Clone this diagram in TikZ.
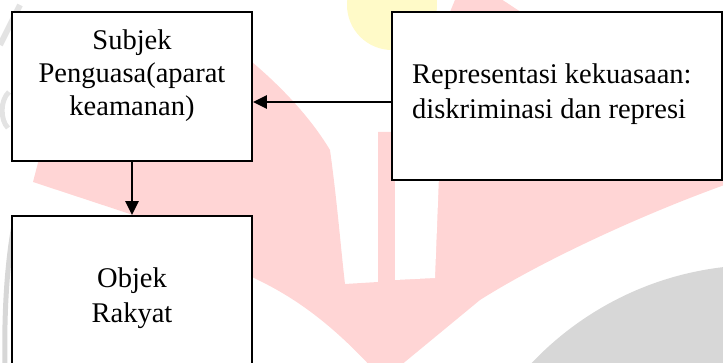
\documentclass[tikz,border=0pt]{standalone}
\usepackage{fontspec}
\setmainfont{Liberation Serif}
\usetikzlibrary{arrows.meta}
\definecolor{wmpink}{HTML}{FFD5D5}
\definecolor{wmyellow}{HTML}{FFFAC8}
\definecolor{wmgray}{HTML}{D7D7D7}
\begin{document}
\begin{tikzpicture}[x=1pt,y=-1pt,
  box/.style={draw=black, line width=1.9pt, fill=white, rectangle, inner sep=0pt},
  txt/.style={inner sep=0pt, font=\fontsize{28.5}{33}\selectfont},
  arr/.style={line width=2.6pt, -{Triangle[length=14pt,width=13pt]}}]
\useasboundingbox (0,0) rectangle (723,363);
\clip (0,0) rectangle (723,363);

% faint logo in the background
\fill[wmyellow] (392,5) circle[radius=45pt];
\fill[wmgray] (760,580) circle[radius=315pt];
\draw[wmgray, line width=5pt] (14,225) .. controls (6,270) and (4,320) .. (5,370);
\draw[wmgray!70, line width=6pt] (0,45) -- (20,5);
\draw[wmgray!70, line width=5pt] (9,92) .. controls (0,100) and (0,120) .. (8,128);
\fill[wmpink] (33,182) -- (40,155) -- (150,40)
  .. controls (200,20) and (235,45) .. (252,62)
  .. controls (285,90) and (312,120) .. (330,150)
  .. controls (337,200) and (341,250) .. (345,284)
  -- (378,282) -- (378,132) -- (395,132) -- (450,12) -- (457,-5) -- (495,-5)
  -- (730,150) -- (730,183)
  .. controls (640,215) and (540,262) .. (480,300)
  -- (383,380)
  .. controls (330,320) and (290,295) .. (252,277)
  .. controls (200,250) and (170,228) .. (127,213) -- cycle;
\fill[white] (395,150) -- (440,150) -- (435,278) -- (395,280) -- cycle;

% boxes
\node[box, minimum width=240pt, minimum height=149pt] (A) at (132,86.5) {};
\node[box, minimum width=330pt, minimum height=168pt] (R) at (557,96) {};
\node[box, minimum width=240pt, minimum height=200pt] (B) at (132,316) {};

% texts
\node[txt, align=center] (At) at (132,76) {Subjek\\Penguasa(aparat\\keamanan)};
\node[txt, align=left, anchor=west, font=\fontsize{28.5}{35}\selectfont] (Rt) at (412,94)
  {Representasi kekuasaan:\\diskriminasi dan represi};
\node[txt, align=center, font=\fontsize{28.5}{35}\selectfont] (Bt) at (132,298) {Objek\\Rakyat};

% connectors
\draw[arr] ([yshift=-6pt]R.west) -- ([yshift=-6pt]R.west -| A.east);
\draw[arr] (A.south) -- (B.north);
\end{tikzpicture}
\end{document}
